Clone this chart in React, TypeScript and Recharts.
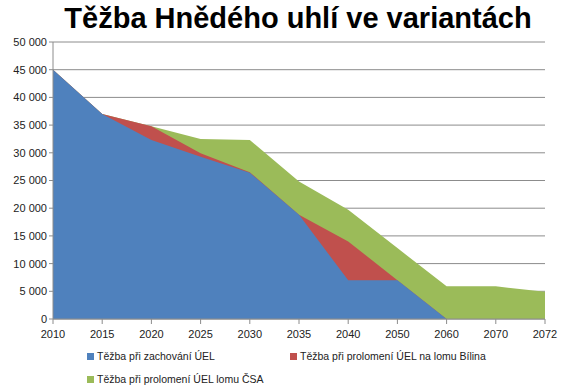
import { AreaChart, Area, XAxis, YAxis, CartesianGrid } from "recharts";

// years on the category axis
const years = ["2010", "2015", "2020", "2025", "2030", "2035", "2040", "2050", "2060", "2070", "2072"];

// totals (kt / year)
const zachovani = [45000, 37000, 32300, 29300, 26400, 18800, 7000, 7000, 0, 0, 0];
const bilina = [45000, 37000, 34800, 29900, 26500, 18800, 14000, 7000, 0, 0, 0];
const csa = [45000, 37000, 34800, 32500, 32300, 24800, 19700, 12800, 5900, 5900, 4900];

const yTicks = [0, 5000, 10000, 15000, 20000, 25000, 30000, 35000, 40000, 45000, 50000];

const series = [
  { key: "zachovani", name: "Těžba při zachování ÚEL", color: "#4F81BD" },
  { key: "bilina", name: "Těžba při prolomení ÚEL na lomu Bílina", color: "#C0504D" },
  { key: "csa", name: "Těžba při prolomení ÚEL lomu ČSA", color: "#9BBB59" },
];

const data = years.map((year, i) => ({
  year,
  zachovani: zachovani[i],
  bilina: bilina[i],
  csa: csa[i],
}));

const fmt = (v: number) => String(v).replace(/\B(?=(\d{3})+(?!\d))/g, " ");

const font = "'Liberation Sans', Arial, sans-serif";

function LegendItem({ name, color, left, top }: { name: string; color: string; left: number; top: number }) {
  return (
    <div style={{ position: "absolute", left, top, display: "flex", alignItems: "center", fontSize: 10.5, color: "#222" }}>
      <span style={{ width: 7, height: 7, background: color, marginRight: 3, display: "inline-block" }} />
      {name}
    </div>
  );
}

export default function App() {
  return (
    <div style={{ position: "absolute", left: 0, top: 0, width: 566, height: 391, background: "#fff", fontFamily: font }}>
      <div
        style={{
          position: "absolute",
          left: 0,
          top: 3,
          width: 596,
          textAlign: "center",
          fontSize: 29,
          fontWeight: "bold",
          lineHeight: "30px",
          color: "#000",
        }}
      >
        Těžba Hnědého uhlí ve variantách
      </div>
      <div style={{ position: "absolute", left: 0, top: 0 }}>
        <AreaChart width={566} height={345} data={data} margin={{ top: 42, right: 21, left: 0, bottom: 0 }}>
          <CartesianGrid vertical={false} stroke="#8c8c8c" />
          <XAxis
            dataKey="year"
            stroke="#8c8c8c"
            tickSize={5}
            tickMargin={6}
            tick={{ fill: "#222", fontSize: 11, fontFamily: font }}
            height={26}
            interval={0}
          />
          <YAxis
            domain={[0, 50000]}
            ticks={yTicks}
            tickFormatter={fmt}
            stroke="#8c8c8c"
            tickSize={4}
            width={53}
            tick={{ fill: "#222", fontSize: 11, fontFamily: font }}
            interval={0}
          />
          <Area dataKey="csa" name={series[2].name} type="linear" fill={series[2].color} stroke="none" fillOpacity={1} isAnimationActive={false} />
          <Area dataKey="bilina" name={series[1].name} type="linear" fill={series[1].color} stroke="none" fillOpacity={1} isAnimationActive={false} />
          <Area dataKey="zachovani" name={series[0].name} type="linear" fill={series[0].color} stroke="none" fillOpacity={1} isAnimationActive={false} />
        </AreaChart>
      </div>
      <LegendItem name={series[0].name} color={series[0].color} left={87} top={350} />
      <LegendItem name={series[1].name} color={series[1].color} left={290} top={350} />
      <LegendItem name={series[2].name} color={series[2].color} left={87} top={373} />
    </div>
  );
}
